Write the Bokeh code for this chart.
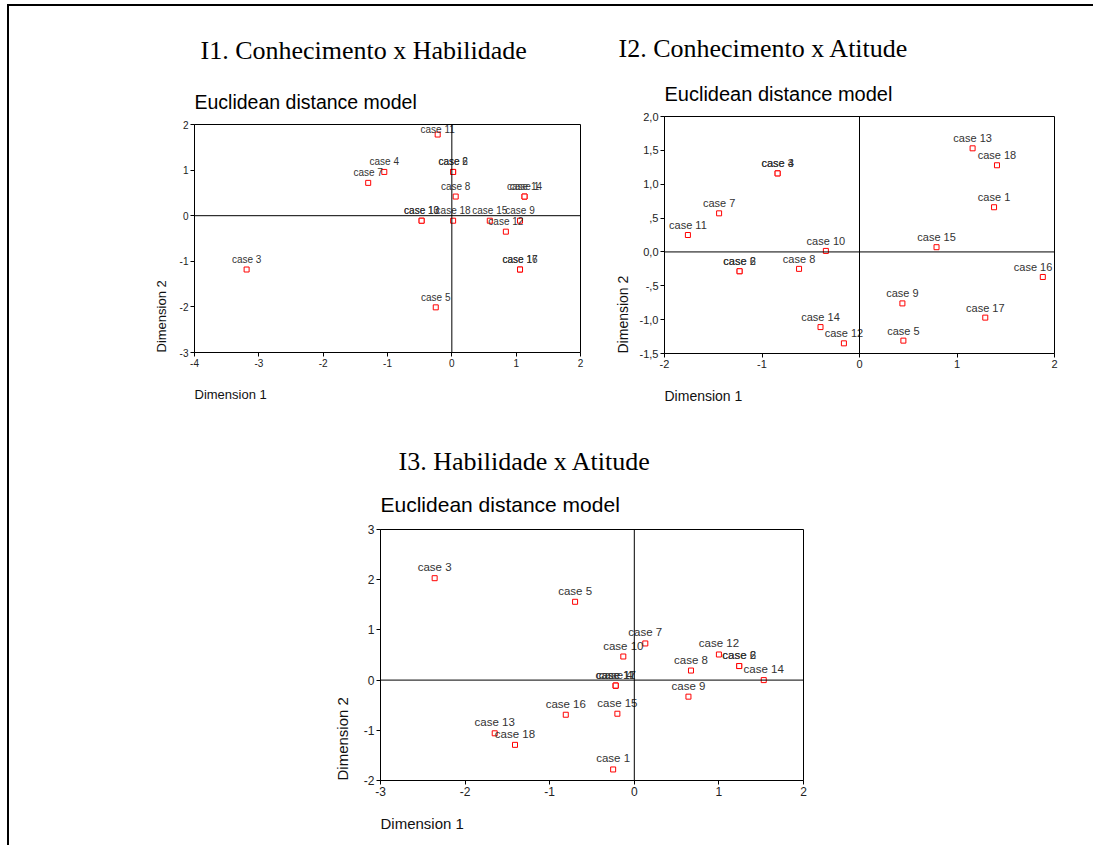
from bokeh.plotting import figure
from bokeh.models import Range1d, FixedTicker, Span, Title, ColumnDataSource, Spacer
from bokeh.layouts import column, row
from bokeh.core.properties import value
from bokeh.embed import file_html
from bokeh.resources import INLINE

# ---------------- data ----------------
cases = [f"case {i}" for i in range(1, 19)]

# I1. Conhecimento x Habilidade
i1_dim1 = [1.13, 0.02, -3.19, -1.05, -0.25, 0.02, -1.30, 0.06, 1.06,
           -0.47, -0.22, 0.84, -0.47, 1.13, 0.59, 1.06, 1.06, 0.02]
i1_dim2 = [0.42, 0.96, -1.18, 0.96, -2.01, 0.96, 0.72, 0.42, -0.11,
           -0.11, 1.78, -0.35, -0.11, 0.42, -0.11, -1.18, -1.18, -0.11]

# I2. Conhecimento x Atitude
i2_dim1 = [1.38, -1.23, -0.84, -0.84, 0.45, -1.23, -1.44, -0.62, 0.44,
           -0.345, -1.76, -0.16, 1.16, -0.40, 0.79, 1.88, 1.29, 1.41]
i2_dim2 = [0.66, -0.285, 1.16, 1.16, -1.31, -0.285, 0.57, -0.25, -0.76,
           0.015, 0.25, -1.35, 1.53, -1.11, 0.07, -0.37, -0.97, 1.28]

# I3. Habilidade x Atitude
i3_dim1 = [-0.25, 1.24, -2.36, -0.22, -0.70, 1.24, 0.13, 0.67, 0.64,
           -0.13, -0.22, 1.00, -1.65, 1.53, -0.20, -0.81, -0.22, -1.41]
i3_dim2 = [-1.78, 0.28, 2.03, -0.11, 1.56, 0.28, 0.73, 0.19, -0.33,
           0.47, -0.11, 0.51, -1.06, 0.0, -0.67, -0.69, -0.11, -1.29]

# axis ticks and labels
i1_xticks = [-4, -3, -2, -1, 0, 1, 2]
i1_xlabels = ["-4", "-3", "-2", "-1", "0", "1", "2"]
i1_yticks = [-3, -2, -1, 0, 1, 2]
i1_ylabels = ["-3", "-2", "-1", "0", "1", "2"]

i2_xticks = [-2, -1, 0, 1, 2]
i2_xlabels = ["-2", "-1", "0", "1", "2"]
i2_yticks = [-1.5, -1.0, -0.5, 0.0, 0.5, 1.0, 1.5, 2.0]
i2_ylabels = ["-1,5", "-1,0", "-,5", "0,0", ",5", "1,0", "1,5", "2,0"]

i3_xticks = [-3, -2, -1, 0, 1, 2]
i3_xlabels = ["-3", "-2", "-1", "0", "1", "2"]
i3_yticks = [-2, -1, 0, 1, 2, 3]
i3_ylabels = ["-2", "-1", "0", "1", "2", "3"]

titles = ["I1. Conhecimento x Habilidade", "I2. Conhecimento x Atitude", "I3. Habilidade x Atitude"]
subtitle = "Euclidean distance model"
xlabel = "Dimension 1"
ylabel = "Dimension 2"

SANS = "Liberation Sans"
SERIF = "Liberation Serif"


def label_offsets(xs, ys, xr, yr, fw, fh, fs, off):
    """Keep each point label inside the plot frame (labels sit above their marker)."""
    dxs, dys = [], []
    for x, y, t in zip(xs, ys, cases):
        sx = (x - xr[0]) / (xr[1] - xr[0]) * fw
        sy = (yr[1] - y) / (yr[1] - yr[0]) * fh - off
        half_w = 0.53 * fs * len(t) / 2
        half_h = 0.5 * fs
        dx = 0.0
        if sx + half_w > fw - 1:
            dx = fw - 1 - (sx + half_w)
        elif sx - half_w < 1:
            dx = 1 - (sx - half_w)
        dy = -off
        if sy - half_h < 0:
            dy += half_h - sy
        dxs.append(dx)
        dys.append(dy)
    return dxs, dys


def make_panel(xs, ys, xr, yr, xticks, xlabels, yticks, ylabels,
               width, height, mb, tick_fs, lab_fs, lab_off,
               title, title_off, title_sd, sub_fs, sub_sd, axt_fs, xl_sd, yl_sd):
    p = figure(width=width, height=height, output_backend="svg", toolbar_location=None,
               x_range=Range1d(*xr), y_range=Range1d(*yr),
               min_border_left=mb[0], min_border_right=mb[1],
               min_border_top=mb[2], min_border_bottom=mb[3])
    p.grid.visible = False
    p.outline_line_color = "black"
    p.outline_line_width = 1
    p.background_fill_color = "white"
    p.border_fill_color = "white"
    for ax, ticks, labels in ((p.xaxis[0], xticks, xlabels), (p.yaxis[0], yticks, ylabels)):
        ax.ticker = FixedTicker(ticks=ticks)
        ax.major_label_overrides = {t: l for t, l in zip(ticks, labels)}
        ax.minor_tick_line_color = None
        ax.major_tick_in = 0
        ax.major_tick_out = 4
        ax.major_label_standoff = 2
        ax.axis_line_color = "black"
        ax.major_tick_line_color = "black"
        ax.major_label_text_font = SANS
        ax.major_label_text_font_size = f"{tick_fs}px"
        ax.major_label_text_color = "#222222"

    p.add_layout(Span(location=0, dimension="width", line_color="black", line_width=1))
    p.add_layout(Span(location=0, dimension="height", line_color="black", line_width=1))

    fw = width - mb[0] - mb[1]
    fh = height - mb[2] - mb[3]
    dxs, dys = label_offsets(xs, ys, xr, yr, fw, fh, lab_fs, lab_off)
    src = ColumnDataSource(dict(x=xs, y=ys, label=cases, dx=dxs, dy=dys))
    p.scatter("x", "y", source=src, marker="square", size=5,
              line_color="#ff0000", fill_color="white", line_width=1)
    p.text("x", "y", text="label", source=src, text_align="center", text_baseline="middle",
           x_offset="dx", y_offset="dy", text_font=value(SANS),
           text_font_size=value(f"{lab_fs}px"), text_color="#333333")

    # main title (outermost) and subtitle
    p.title = Title(text=title, text_font=SERIF, text_font_size="26px", text_font_style="normal",
                    align="left", offset=title_off, standoff=title_sd, text_color="black")
    p.add_layout(Title(text=subtitle, text_font=SANS, text_font_size=f"{sub_fs}px",
                       text_font_style="normal", align="left", offset=0, standoff=sub_sd,
                       text_color="black"), "above")
    # axis titles
    p.add_layout(Title(text=xlabel, text_font=SANS, text_font_size=f"{axt_fs}px",
                       text_font_style="normal", align="left", offset=0, standoff=xl_sd,
                       text_color="#111111"), "below")
    p.add_layout(Title(text=ylabel, text_font=SANS, text_font_size=f"{axt_fs}px",
                       text_font_style="normal", align="left", offset=0, standoff=yl_sd,
                       text_color="#111111"), "left")
    return p


p1 = make_panel(i1_dim1, i1_dim2, (-4, 2), (-3, 2), i1_xticks, i1_xlabels, i1_yticks, i1_ylabels,
                width=581, height=414, mb=(185, 10, 118, 68), tick_fs=10, lab_fs=10, lab_off=10,
                title=titles[0], title_off=6, title_sd=26, sub_fs=19.5, sub_sd=23, axt_fs=13,
                xl_sd=30, yl_sd=15)

p2 = make_panel(i2_dim1, i2_dim2, (-2, 2), (-1.5, 2.0), i2_xticks, i2_xlabels, i2_yticks, i2_ylabels,
                width=503, height=414, mb=(74, 39, 110, 67), tick_fs=11, lab_fs=11, lab_off=10,
                title=titles[1], title_off=-46, title_sd=12, sub_fs=20, sub_sd=24, axt_fs=14,
                xl_sd=31, yl_sd=12)

p3 = make_panel(i3_dim1, i3_dim2, (-3, 2), (-2, 3), i3_xticks, i3_xlabels, i3_yticks, i3_ylabels,
                width=512, height=425, mb=(62, 27, 109, 65), tick_fs=12, lab_fs=11.5, lab_off=11,
                title=titles[2], title_off=18, title_sd=4, sub_fs=21, sub_sd=27, axt_fs=15,
                xl_sd=28, yl_sd=20)

layout = column(row(column(p1), column(p2)), row(Spacer(width=309, height=425), p3),
                styles={"border-top": "2px solid black", "border-left": "2px solid black",
                        "margin-left": "7px", "margin-top": "4px"})

open("out.html", "w").write(file_html(layout, INLINE))
